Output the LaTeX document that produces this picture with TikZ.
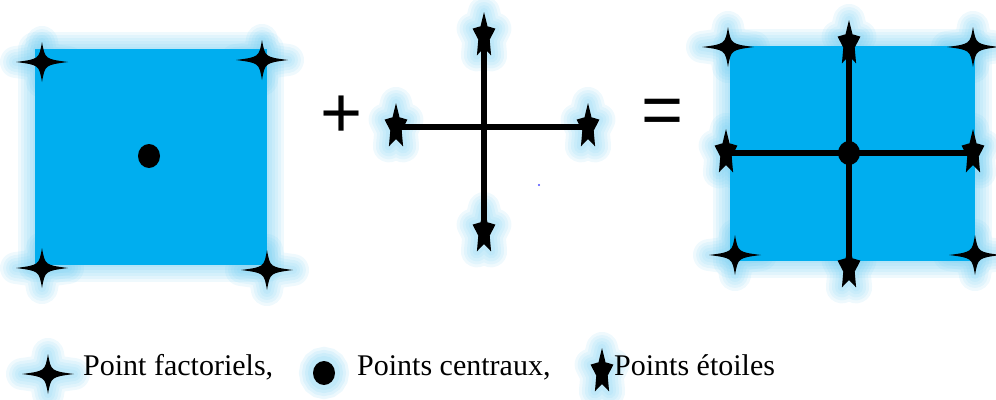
\documentclass[tikz,border=0pt]{standalone}
\usepackage{fontspec}
\setmainfont{Liberation Serif}
\newfontfamily\opfont{Liberation Sans}
\definecolor{sqc}{RGB}{0,174,239}
\definecolor{glowc}{RGB}{100,200,240}
\tikzset{
  fourpath/.style={insert path={(26,0) .. controls (3,3) .. (0,20) .. controls (-3,3) .. (-26,0) .. controls (-3,-3) .. (0,-20) .. controls (3,-3) .. cycle}},
  fivepath/.style={insert path={(0,-24) -- (-3.5,-9.7) -- (-11.4,-7.4) -- (-5.7,3.7) -- (-7.1,19.4) -- (0,12) -- (7.1,19.4) -- (5.7,3.7) -- (11.4,-7.4) -- (3.5,-9.7) -- cycle}},
  fourglow/.pic={\foreach \w in {32,26,20,14,8} \draw[glowc,opacity=0.1,line width=\w pt,line join=round,fourpath];},
  fiveglow/.pic={\foreach \w in {32,26,20,14,8} \draw[glowc,opacity=0.1,line width=\w pt,line join=round,fivepath];},
  dotglow/.pic={\foreach \w in {28,22,16,10} \draw[glowc,opacity=0.12,line width=\w pt] (0,0) ellipse [x radius=11, y radius=12];},
  fourstar/.pic={\fill[black,fourpath];},
  fivestar/.pic={\fill[black,fivepath];},
  cdot/.pic={\fill[black] (0,0) ellipse [x radius=11, y radius=12];},
  sqglow/.style={glowc,line join=round,opacity=0.1},
  crossline/.style={black,line width=5.5pt},
  legend/.style={anchor=base west,inner sep=0pt,font=\rmfamily\fontsize{30}{32}\selectfont},
  opsign/.style={inner sep=0pt,font=\opfont\fontsize{72}{72}\selectfont}
}
\begin{document}
\begin{tikzpicture}[x=1pt,y=-1pt]
\useasboundingbox (0,0) rectangle (996,399);
% coordinates
\coordinate (A1) at (42,62);  \coordinate (A2) at (262,60);
\coordinate (A3) at (42,268); \coordinate (A4) at (267,270);
\coordinate (Ac) at (149,156);
\coordinate (Bt) at (484,36); \coordinate (Bb) at (484,232);
\coordinate (Bl) at (396,127); \coordinate (Br) at (588,127);
\coordinate (C1) at (728,47); \coordinate (C2) at (849,44); \coordinate (C3) at (973,47);
\coordinate (C4) at (726,153); \coordinate (Cc) at (849,153); \coordinate (C5) at (973,153);
\coordinate (C6) at (735,255); \coordinate (C7) at (849,268); \coordinate (C8) at (975,255);
\coordinate (L1) at (48,374); \coordinate (L2) at (324,373); \coordinate (L3) at (602,372);
% glows
\foreach \p in {A1,A2,A3,A4,C1,C3,C6,C8,L1} \pic at (\p) {fourglow};
\foreach \p in {Bt,Bb,Bl,Br,C2,C4,C5,C7,L3} \pic at (\p) {fiveglow};
\pic at (L2) {dotglow};
\foreach \w in {34,28,22,16,10,4} {
  \draw[sqglow,line width=\w pt] (35,49) rectangle (267,265);
  \draw[sqglow,line width=\w pt] (730,46) rectangle (975,261);
}
% squares
\fill[sqc] (35,49) rectangle (267,265);
\fill[sqc] (730,46) rectangle (975,261);
% lines
\draw[crossline] (Bt) -- (Bb);
\draw[crossline] (Bl) -- (Br);
\draw[crossline] (C2) -- (Cc) -- (C7);
\draw[crossline] (C4) -- (Cc) -- (C5);
% points
\foreach \p in {A1,A2,A3,A4,C1,C3,C6,C8,L1} \pic at (\p) {fourstar};
\foreach \p in {Bt,Bb,Bl,Br,C2,C4,C5,C7,L3} \pic at (\p) {fivestar};
\foreach \p in {Ac,Cc,L2} \pic at (\p) {cdot};
\fill[blue!70] (539,185) circle (1.2);
% operators
\node[opsign] (plus) at (342,117) {+};
\node[opsign] (eq) at (663,117) {=};
% legend
\node[legend] (t1) at (83,375) {Point factoriels,};
\node[legend] (t2) at (357,375) {Points centraux,};
\node[legend] (t3) at (614,375) {Points étoiles};
\end{tikzpicture}
\end{document}
